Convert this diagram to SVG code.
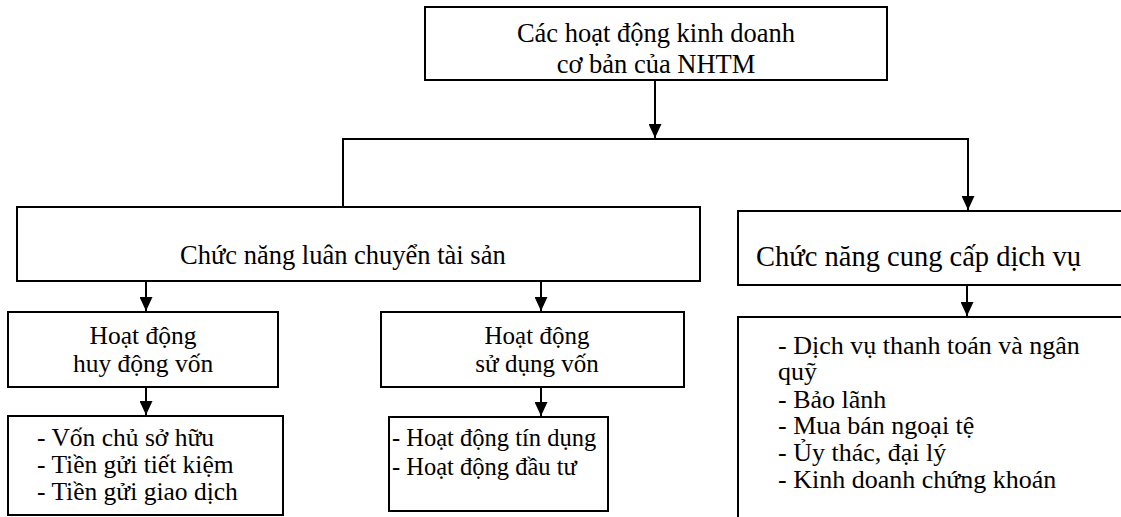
<svg xmlns="http://www.w3.org/2000/svg" width="1121" height="517" viewBox="0 0 1121 517">
<defs>
<style>
.box{fill:#fff;stroke:#000;stroke-width:2}
.t{font-family:"Liberation Serif","Times New Roman",serif;fill:#000}
.c{text-anchor:middle}
.ln{fill:none;stroke:#000;stroke-width:2}
.lst{font-size:26px}
</style>
<marker id="ah" markerWidth="14" markerHeight="13" refX="14" refY="6.5" orient="auto" markerUnits="userSpaceOnUse" viewBox="0 0 14 13">
<path d="M0,0 L14,6.5 L0,13 Z" fill="#000"/>
</marker>
</defs>
<rect width="1121" height="517" fill="#fff"/>
<g id="connectors">
<line class="ln" x1="655" y1="80" x2="655" y2="138" marker-end="url(#ah)"/>
<polyline class="ln" points="343,206 343,139 968,139 968,210" marker-end="url(#ah)"/>
<line class="ln" x1="146" y1="281" x2="146" y2="311" marker-end="url(#ah)"/>
<line class="ln" x1="541" y1="281" x2="541" y2="311" marker-end="url(#ah)"/>
<line class="ln" x1="146" y1="387" x2="146" y2="415" marker-end="url(#ah)"/>
<line class="ln" x1="541" y1="387" x2="541" y2="416" marker-end="url(#ah)"/>
<line class="ln" x1="967" y1="285" x2="967" y2="316" marker-end="url(#ah)"/>
</g>
<g id="n-root">
<rect class="box" x="425" y="7" width="462" height="73"/>
<text class="t c" x="656" y="42" font-size="26.5">Các hoạt động kinh doanh</text>
<text class="t c" x="656" y="73" font-size="26.5">cơ bản của NHTM</text>
</g>
<g id="n-luanchuyen">
<rect class="box" x="17" y="207" width="683" height="74"/>
<text class="t" x="180" y="264" font-size="26.5">Chức năng luân chuyển tài sản</text>
</g>
<g id="n-dichvu">
<rect class="box" x="738" y="211" width="400" height="74"/>
<text class="t" x="756" y="266" font-size="28.5">Chức năng cung cấp dịch vụ</text>
</g>
<g id="n-huydong">
<rect class="box" x="8" y="312" width="270" height="75"/>
<text class="t c" x="143" y="344" font-size="25.5">Hoạt động</text>
<text class="t c" x="143" y="372" font-size="25.5">huy động vốn</text>
</g>
<g id="n-sudung">
<rect class="box" x="381" y="312" width="303" height="75"/>
<text class="t c" x="537" y="344" font-size="25">Hoạt động</text>
<text class="t c" x="537" y="372" font-size="25">sử dụng vốn</text>
</g>
<g id="n-nguonvon">
<rect class="box" x="8" y="416" width="275" height="99"/>
<text class="t" x="37" y="446" font-size="25.5">- Vốn chủ sở hữu</text>
<text class="t" x="37" y="473" font-size="25.5">- Tiền gửi tiết kiệm</text>
<text class="t" x="37" y="500" font-size="25.5">- Tiền gửi giao dịch</text>
</g>
<g id="n-sudungvon-list">
<rect class="box" x="389" y="417" width="219" height="94"/>
<text class="t" x="392" y="446" font-size="24.5">- Hoạt động tín dụng</text>
<text class="t" x="392" y="475" font-size="24.5">- Hoạt động đầu tư</text>
</g>
<g id="n-dichvu-list">
<rect class="box" x="738" y="317" width="400" height="220"/>
<text class="t lst" x="778" y="354">- Dịch vụ thanh toán và ngân</text>
<text class="t lst" x="778" y="380">quỹ</text>
<text class="t lst" x="778" y="408">- Bảo lãnh</text>
<text class="t lst" x="778" y="434">- Mua bán ngoại tệ</text>
<text class="t lst" x="778" y="461">- Ủy thác, đại lý</text>
<text class="t lst" x="778" y="488">- Kinh doanh chứng khoán</text>
</g>
</svg>
